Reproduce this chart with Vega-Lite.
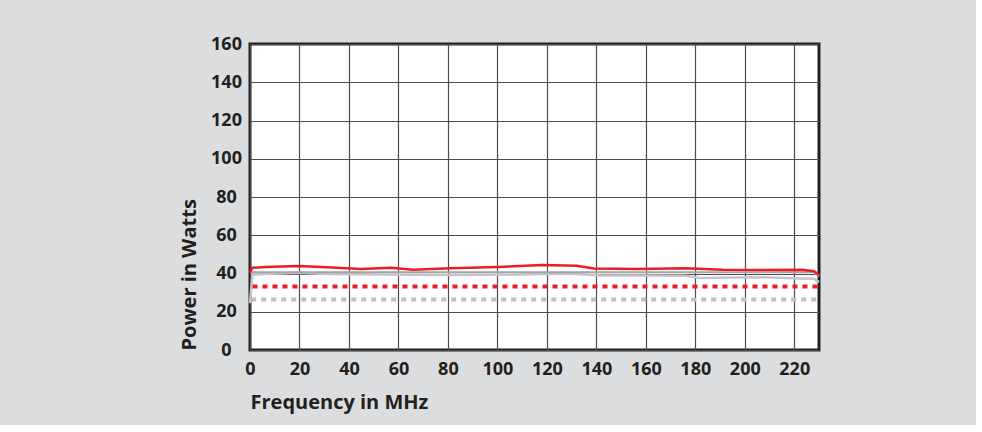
{
  "$schema": "https://vega.github.io/schema/vega-lite/v6.json",
  "autosize": "none",
  "width": 569,
  "height": 306,
  "padding": {"left": 250, "top": 44, "right": 157, "bottom": 75},
  "background": "#dcdddf",
  "config": {
    "view": {"stroke": "#231f20", "strokeWidth": 3, "fill": "#ffffff"},
    "axis": {
      "grid": true,
      "gridColor": "#4d4d4f",
      "gridWidth": 1.2,
      "domain": false,
      "ticks": false,
      "tickSize": 0,
      "labelFlush": false,
      "labelFont": "Open Sans",
      "labelFontWeight": "bold",
      "labelFontSize": 18,
      "labelColor": "#231f20",
      "titleFont": "Open Sans",
      "titleFontWeight": "bold",
      "titleFontSize": 20,
      "titleColor": "#231f20"
    }
  },
  "data": {
    "values": [
      {"series": "redsolid", "f": 0, "p": 40.5},
      {"series": "redsolid", "f": 1, "p": 43.0},
      {"series": "redsolid", "f": 6, "p": 43.4},
      {"series": "redsolid", "f": 20, "p": 43.9},
      {"series": "redsolid", "f": 33, "p": 43.2},
      {"series": "redsolid", "f": 45, "p": 42.3},
      {"series": "redsolid", "f": 57, "p": 43.0},
      {"series": "redsolid", "f": 66, "p": 41.9},
      {"series": "redsolid", "f": 81, "p": 42.7},
      {"series": "redsolid", "f": 100, "p": 43.4},
      {"series": "redsolid", "f": 118, "p": 44.4},
      {"series": "redsolid", "f": 132, "p": 44.1},
      {"series": "redsolid", "f": 139, "p": 42.6},
      {"series": "redsolid", "f": 156, "p": 42.3},
      {"series": "redsolid", "f": 176, "p": 42.7},
      {"series": "redsolid", "f": 191, "p": 42.0},
      {"series": "redsolid", "f": 207, "p": 41.8},
      {"series": "redsolid", "f": 223, "p": 41.9},
      {"series": "redsolid", "f": 228, "p": 41.2},
      {"series": "redsolid", "f": 230, "p": 39.3},
      {"series": "graydark", "f": 0, "p": 40.6},
      {"series": "graydark", "f": 228, "p": 40.6},
      {"series": "graydark", "f": 230, "p": 38.5},
      {"series": "graylight", "f": 0, "p": 24.5},
      {"series": "graylight", "f": 1, "p": 39.5},
      {"series": "graylight", "f": 6, "p": 39.7},
      {"series": "graylight", "f": 20, "p": 40.4},
      {"series": "graylight", "f": 30, "p": 39.7},
      {"series": "graylight", "f": 45, "p": 39.6},
      {"series": "graylight", "f": 60, "p": 39.3},
      {"series": "graylight", "f": 80, "p": 39.2},
      {"series": "graylight", "f": 100, "p": 39.3},
      {"series": "graylight", "f": 118, "p": 39.7},
      {"series": "graylight", "f": 132, "p": 39.7},
      {"series": "graylight", "f": 142, "p": 39.0},
      {"series": "graylight", "f": 160, "p": 38.9},
      {"series": "graylight", "f": 176, "p": 38.8},
      {"series": "graylight", "f": 182, "p": 37.7},
      {"series": "graylight", "f": 195, "p": 37.9},
      {"series": "graylight", "f": 207, "p": 38.0},
      {"series": "graylight", "f": 223, "p": 37.4},
      {"series": "graylight", "f": 228, "p": 37.2},
      {"series": "graylight", "f": 230, "p": 35.5},
      {"series": "graydot", "f": 0.5, "p": 26.4},
      {"series": "graydot", "f": 230, "p": 26.4},
      {"series": "reddot", "f": 1, "p": 33.2},
      {"series": "reddot", "f": 230, "p": 33.2}
    ]
  },
  "encoding": {
    "x": {
      "field": "f",
      "type": "quantitative",
      "scale": {"domain": [0, 230], "nice": false, "zero": true},
      "axis": {
        "title": "Frequency in MHz",
        "values": [0, 20, 40, 60, 80, 100, 120, 140, 160, 180, 200, 220],
        "labelPadding": 10,
        "titleAnchor": "start",
        "titlePadding": 14
      }
    },
    "y": {
      "field": "p",
      "type": "quantitative",
      "scale": {"domain": [0, 160], "nice": false},
      "axis": {
        "title": "Power in Watts",
        "values": [0, 20, 40, 60, 80, 100, 120, 140, 160],
        "labelAlign": "center",
        "labelPadding": 24,
        "titleAnchor": "start",
        "titlePadding": 11
      }
    }
  },
  "layer": [
    {
      "transform": [{"filter": "datum.series === 'graylight'"}],
      "mark": {"type": "line", "color": "#c4c5c7", "strokeWidth": 2.5}
    },
    {
      "transform": [{"filter": "datum.series === 'graydark'"}],
      "mark": {"type": "line", "color": "#a3a4a7", "strokeWidth": 2}
    },
    {
      "transform": [{"filter": "datum.series === 'graydot'"}],
      "mark": {"type": "line", "color": "#bfc0c2", "strokeWidth": 4, "strokeDash": [5, 5], "strokeCap": "butt"}
    },
    {
      "transform": [{"filter": "datum.series === 'reddot'"}],
      "mark": {"type": "line", "color": "#ed1c24", "strokeWidth": 4, "strokeDash": [5, 5], "strokeCap": "butt"}
    },
    {
      "transform": [{"filter": "datum.series === 'redsolid'"}],
      "mark": {"type": "line", "color": "#ed1c24", "strokeWidth": 2.5}
    }
  ]
}
